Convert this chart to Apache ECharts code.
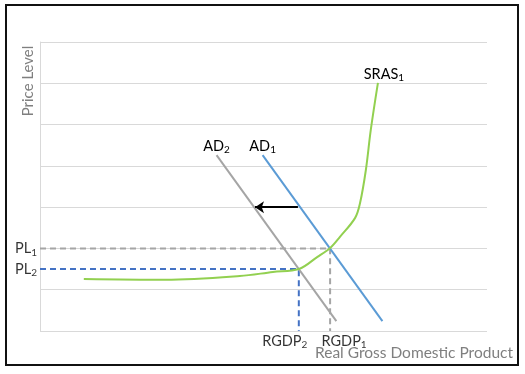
<!DOCTYPE html>
<html>
<head>
<meta charset="utf-8">
<script src="https://cdn.jsdelivr.net/npm/echarts@6/dist/echarts.min.js"></script>
<style>
html,body{margin:0;padding:0;background:#fff;}
#chart{width:525px;height:374px;}
</style>
</head>
<body>
<div id="chart"></div>
<script>
// ---- data (x: real GDP index 0-100, y: price level 0-7) ----
const ad1 = [[49.8, 4.26], [76.6, 0.24]];
const ad2 = [[39.5, 4.26], [66.3, 0.24]];
const sras = [[9.8, 1.26], [28.0, 1.24], [44.7, 1.33], [52.1, 1.43], [57.9, 1.50], [62.0, 1.79],
  [64.9, 2.01], [67.1, 2.28], [70.5, 2.74], [71.6, 3.10], [72.9, 3.90], [74.0, 4.87], [75.6, 6.01]];
const shiftArrow = [[57.7, 3.0], [48.1, 3.0]];
const plLevels = [2.0, 1.5];      // PL1, PL2
const rgdpLevels = [64.9, 57.9];  // RGDP1, RGDP2
const yTicks = [0, 1, 2, 3, 4, 5, 6, 7];

const FONT = 'Lato';
const rich = {
  m: { fontSize: 14.5, fontFamily: FONT, color: '#000' },
  s: { fontSize: 10, fontFamily: FONT, color: '#000', padding: [8, 0, 0, 0] }
};
function sub(main, s) { return '{m|' + main + '}{s|' + s + '}'; }

const chart = echarts.init(document.getElementById('chart'), null, { renderer: 'canvas' });

function dashed(x, y, color) {
  return {
    type: 'line', data: [[0, y], [x, y], [x, 0]], symbol: 'none', silent: true,
    lineStyle: { color: color, width: 2, type: [6, 4] }, z: 2
  };
}

const option = {
  animation: false,
  grid: { left: 40, top: 42, right: 38, bottom: 43 },
  xAxis: {
    type: 'value', min: 0, max: 100,
    axisLine: { show: false }, axisTick: { show: false }, axisLabel: { show: false }, splitLine: { show: false }
  },
  yAxis: {
    type: 'value', min: yTicks[0], max: yTicks[yTicks.length - 1], interval: 1,
    axisLine: { show: true, lineStyle: { color: '#d9d9d9', width: 1 } },
    axisTick: { show: false }, axisLabel: { show: false },
    splitLine: { show: true, lineStyle: { color: '#d9d9d9', width: 1 } }
  },
  series: [
    dashed(rgdpLevels[0], plLevels[0], '#a5a5a5'),
    dashed(rgdpLevels[1], plLevels[1], '#4472c4'),
    {
      type: 'line', name: 'AD1', data: ad1, symbol: 'none', z: 3,
      lineStyle: { color: '#5b9bd5', width: 2 },
      markPoint: {
        symbol: 'circle', symbolSize: 0,
        data: [{ coord: ad1[0], label: { show: true, position: 'top', distance: 0, formatter: sub('AD', '1'), rich: rich } }]
      }
    },
    {
      type: 'line', name: 'AD2', data: ad2, symbol: 'none', z: 3,
      lineStyle: { color: '#a5a5a5', width: 2 },
      markPoint: {
        symbol: 'circle', symbolSize: 0,
        data: [{ coord: ad2[0], label: { show: true, position: 'top', distance: 0, formatter: sub('AD', '2'), rich: rich } }]
      }
    },
    {
      type: 'line', name: 'SRAS1', data: sras, symbol: 'none', smooth: 0.35, z: 4,
      lineStyle: { color: '#92d050', width: 2 },
      markPoint: {
        symbol: 'circle', symbolSize: 0,
        data: [{ coord: sras[sras.length - 1], label: { show: true, position: 'top', distance: 0, offset: [6, 0], formatter: sub('SRAS', '1'), rich: rich } }]
      }
    },
    {
      type: 'lines', coordinateSystem: 'cartesian2d', z: 5, silent: true,
      symbol: ['none', 'arrow'], symbolSize: 9,
      lineStyle: { color: '#000', width: 2, opacity: 1 },
      data: [{ coords: shiftArrow }]
    },
    {
      type: 'scatter', clip: false, symbolSize: 0, silent: true, z: 6,
      data: [
        { value: [0, plLevels[0]], label: { show: true, position: 'left', distance: 3, formatter: sub('PL', '1'), rich: rich } },
        { value: [0, plLevels[1]], label: { show: true, position: 'left', distance: 3, formatter: sub('PL', '2'), rich: rich } },
        { value: [rgdpLevels[0], 0], label: { show: true, position: 'bottom', distance: 1, offset: [14, 0], formatter: sub('RGDP', '1'), rich: rich } },
        { value: [rgdpLevels[1], 0], label: { show: true, position: 'bottom', distance: 1, offset: [-14, 0], formatter: sub('RGDP', '2'), rich: rich } }
      ]
    }
  ],
  graphic: [
    { type: 'rect', shape: { x: 6, y: 5, width: 512, height: 360 }, style: { fill: 'none', stroke: '#111', lineWidth: 2 }, z: 10 },
    { type: 'text', x: 28, y: 81, rotation: Math.PI / 2,
      style: { text: 'Price Level', fontSize: 15, fontFamily: FONT, fill: '#7f7f7f', align: 'center', verticalAlign: 'middle' } },
    { type: 'text', x: 513, y: 353,
      style: { text: 'Real Gross Domestic Product', fontSize: 15.5, fontFamily: FONT, fill: '#7f7f7f', align: 'right', verticalAlign: 'middle' } }
  ]
};
chart.setOption(option);
</script>
</body>
</html>
